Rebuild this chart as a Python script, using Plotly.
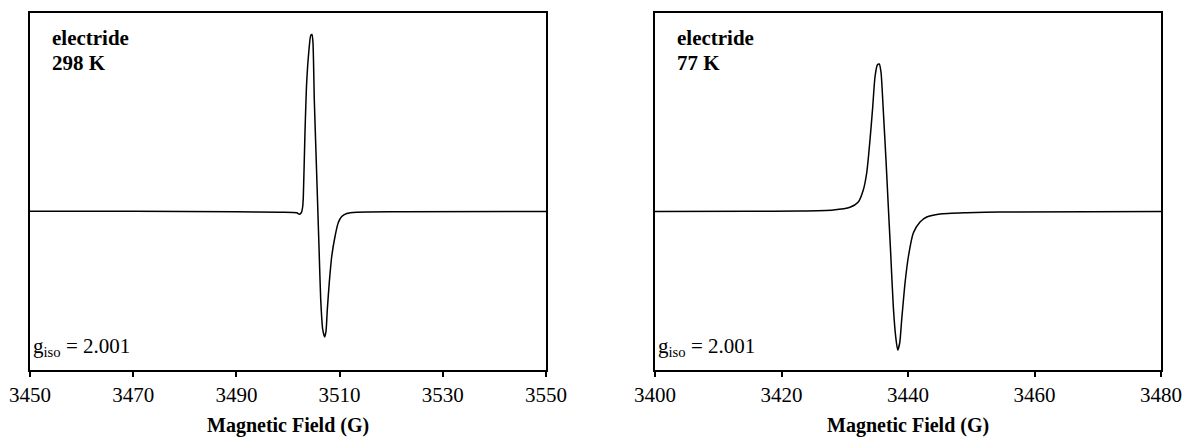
import plotly.graph_objects as go

W, H = 1184, 438

# ---- data ----
field_298 = [3450, 3470, 3490, 3498.5, 3501.7, 3502.2, 3502.6, 3502.85, 3502.97, 3503.29,
             3503.62, 3504.07, 3504.40, 3504.65, 3504.84, 3505.10, 3505.41, 3505.72, 3506.03,
             3506.34, 3506.73, 3507.11, 3507.36, 3507.62, 3508.00, 3508.47, 3509.11,
             3509.75, 3510.41, 3511.38, 3513.31, 3521.7, 3550]
signal_298 = [0.2, 0.2, -0.2, -0.8, -1.3, -2.8, -1.0, 5, 15, 79,
              129, 162, 176, 177, 169, 111, 61, 11, -39,
              -88, -118, -125.5, -120, -98, -71, -45, -25,
              -11, -5, -2, -0.7, -0.3, 0.0]

field_77 = [3400, 3415, 3422.92, 3428.19, 3430.83, 3432.14, 3432.93, 3433.47, 3433.99, 3434.42,
            3434.78, 3435.15, 3435.46, 3435.73, 3436.09, 3436.52, 3436.89, 3437.26, 3437.68,
            3438.06, 3438.37, 3438.69, 3439.00, 3439.53, 3440.05, 3440.84, 3441.90, 3442.96,
            3445.06, 3449.28, 3454.55, 3480]
signal_77 = [0.0, 0.3, 0.5, 1.5, 4.2, 9.5, 21.5, 38.5, 71.5, 104.5,
             134.5, 146.5, 147.5, 139.5, 101.5, 51.5, 4.5, -41.5, -95.5,
             -125.5, -138.5, -131.5, -108.5, -71.5, -45.5, -21.5, -10.5, -5.5,
             -2.5, -1.2, -0.5, 0.0]

ticks_298 = [3450, 3470, 3490, 3510, 3530, 3550]
ticks_77 = [3400, 3420, 3440, 3460, 3480]
labels_298 = ["electride", "298 K"]
labels_77 = ["electride", "77 K"]
g_label = "g<sub>iso</sub> = 2.001"
x_title = "Magnetic Field (G)"

FONT = "Liberation Serif, Times New Roman, serif"

def px(x):
    return x / W

def py(y):
    return 1 - y / H

fig = go.Figure()
fig.add_trace(go.Scatter(x=field_298, y=signal_298, mode="lines", xaxis="x", yaxis="y",
                         line=dict(color="black", width=1.5, shape="spline", smoothing=0.6),
                         showlegend=False))
fig.add_trace(go.Scatter(x=field_77, y=signal_77, mode="lines", xaxis="x2", yaxis="y2",
                         line=dict(color="black", width=1.5, shape="spline", smoothing=0.6),
                         showlegend=False))

xcommon = dict(showline=True, linecolor="black", linewidth=2, mirror=True,
               ticks="outside", ticklen=5, tickwidth=1.5, tickcolor="black",
               showgrid=False, zeroline=False, automargin=False,
               tickfont=dict(family=FONT, size=21, color="black"))
ycommon = dict(showline=True, linecolor="black", linewidth=2, mirror=True,
               showticklabels=False, ticks="", showgrid=False, zeroline=False,
               automargin=False, range=[-158.5, 198.5])

ydom = [py(370), py(13)]
fig.update_layout(
    width=W, height=H, margin=dict(l=0, r=0, t=0, b=0, pad=0, autoexpand=False),
    paper_bgcolor="white", plot_bgcolor="white",
    xaxis=dict(domain=[px(30), px(546)], range=[3450, 3550], tickvals=ticks_298,
               anchor="y", **xcommon),
    yaxis=dict(domain=ydom, anchor="x", **ycommon),
    xaxis2=dict(domain=[px(655), px(1161)], range=[3400, 3480], tickvals=ticks_77,
                anchor="y2", **xcommon),
    yaxis2=dict(domain=ydom, anchor="x2", **ycommon),
)

ann = []
for x0, labs in [(50, labels_298), (675, labels_77)]:
    for i, t in enumerate(labs):
        ann.append(dict(x=px(x0), y=py(38 + 25 * i), xref="paper", yref="paper",
                        text="<b>%s</b>" % t, showarrow=False, xanchor="left", yanchor="middle",
                        font=dict(family=FONT, size=21, color="black")))
for x0 in [31, 656]:
    ann.append(dict(x=px(x0), y=py(347), xref="paper", yref="paper", text=g_label,
                    showarrow=False, xanchor="left", yanchor="middle",
                    font=dict(family=FONT, size=21, color="black")))
for xc in [(30 + 546) / 2, (655 + 1161) / 2]:
    ann.append(dict(x=px(xc), y=py(425), xref="paper", yref="paper",
                    text="<b>%s</b>" % x_title, showarrow=False, xanchor="center",
                    yanchor="middle", font=dict(family=FONT, size=20, color="black")))
fig.update_layout(annotations=ann)

fig.write_html("out.html")
